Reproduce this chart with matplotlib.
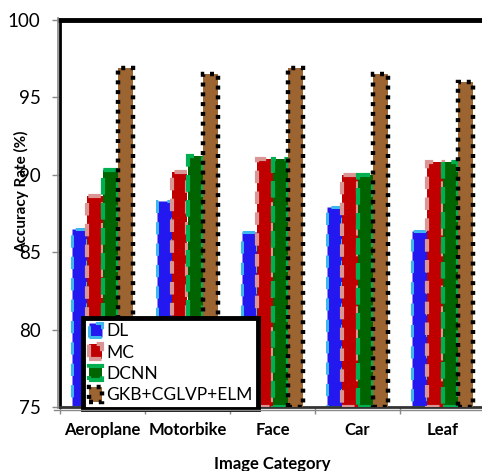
import matplotlib
matplotlib.use("Agg")
import matplotlib.pyplot as plt
import numpy as np
from matplotlib.patches import Patch
from matplotlib.lines import Line2D

categories = ["Aeroplane", "Motorbike", "Face", "Car", "Leaf"]
series_names = ["DL", "MC", "DCNN", "GKB+CGLVP+ELM"]
dl = [86.5, 88.3, 86.3, 87.9, 86.4]
mc = [88.6, 90.2, 91.0, 90.0, 90.8]
dcnn = [90.3, 91.2, 91.0, 90.0, 90.8]
gkb = [96.9, 96.5, 96.9, 96.5, 96.0]
yticks = [75, 80, 85, 90, 95, 100]

face = ["#2318F0", "#C00000", "#006400", "#9B6430"]
edge = ["#3CB8EE", "#DA9694", "#00B050", "#000000"]
styles = [(0, (4, 3)), (0, (3, 2)), (0, (4, 2)), (0, (0.9, 1.3))]
lws = [2.2, 3.0, 3.0, 3.2]

plt.rcParams['font.family'] = ['Lato', 'DejaVu Sans']
W, H = 482, 471
fig = plt.figure(figsize=(W / 100, H / 100), dpi=100)
ax = fig.add_axes([60 / W, 1 - 407 / H, 425 / W, 387 / H])

x = np.arange(len(categories))
bw = 0.18
data = [dl, mc, dcnn, gkb]
for i, vals in enumerate(data):
    off = (i - 1.5) * bw
    ax.bar(x + off, np.array(vals) - 75, bottom=75, width=bw, color=face[i],
           edgecolor=edge[i], linewidth=lws[i], linestyle=styles[i], zorder=2 + i)

ax.set_xlim(-0.5, 4.5)
ax.set_ylim(75, 100)
ax.set_yticks(yticks)
ax.set_yticklabels([str(v) for v in yticks], fontsize=13.5)
ax.set_xticks(np.arange(-0.5, 5.0, 1.0))
ax.set_xticklabels([])
ax.set_xticks(x, minor=True)
ax.set_xticklabels(categories, minor=True, fontsize=12, fontweight='bold')
ax.tick_params(axis='x', which='minor', length=0, pad=11)
ax.tick_params(axis='x', which='major', length=5, color='#888888', width=1)
ax.tick_params(axis='y', length=6, color='#888888', width=1, pad=8)

ax.spines['right'].set_visible(False)
ax.spines['top'].set_linewidth(3.5)
ax.spines['top'].set_color('black')
ax.spines['left'].set_linewidth(2)
ax.spines['left'].set_color('black')
ax.spines['bottom'].set_linewidth(2)
ax.spines['bottom'].set_color('#333333')
# gray outer lines
fig.add_artist(Line2D([57.5 / W, 57.5 / W], [1 - 408 / H, 1 - 18 / H], color='#888888', lw=1.2))
fig.add_artist(Line2D([54 / W, 1.0], [1 - 409.5 / H, 1 - 409.5 / H], color='#888888', lw=1.0))

ax.set_ylabel("Accuracy Rate (%)", fontsize=11, fontweight='bold')
ax.yaxis.set_label_coords(-0.072, 0.555)
fig.text(272 / W, 1 - 464 / H, "Image Category", ha='center', va='center',
         fontsize=12, fontweight='bold')

handles = [Patch(facecolor=face[i], edgecolor=edge[i], linewidth=lws[i], linestyle=styles[i])
           for i in range(4)]
leg = ax.legend(handles, series_names, loc='lower left', bbox_to_anchor=(0.055, -0.004),
                borderaxespad=0, fontsize=12.5, frameon=True, fancybox=False,
                handlelength=0.75, handleheight=0.9, handletextpad=0.25,
                labelspacing=0.3, borderpad=0.3)
leg.get_frame().set_edgecolor('black')
leg.get_frame().set_linewidth(3.5)
leg.get_frame().set_alpha(1)
leg.set_zorder(10)

fig.savefig("out.png", dpi=100)
